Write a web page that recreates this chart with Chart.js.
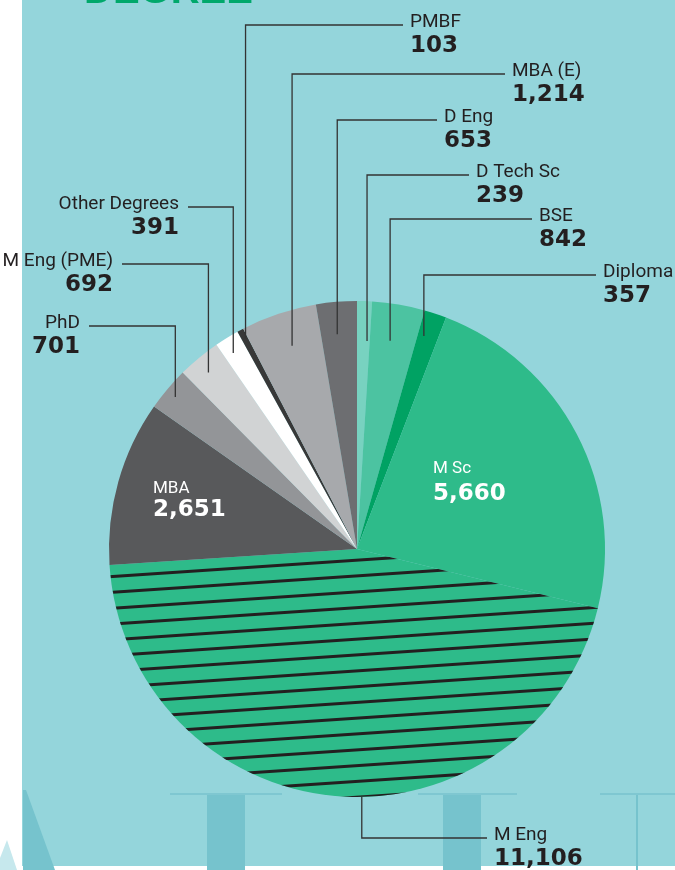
<!DOCTYPE html>
<html>
<head>
<meta charset="utf-8">
<script src="https://cdn.jsdelivr.net/npm/chart.js@4/dist/chart.umd.min.js"></script>
<style>
  html, body { margin: 0; padding: 0; background: #fff; overflow: hidden; }
  canvas { display: block; }
</style>
</head>
<body>
<canvas id="degreeChart" width="675" height="870"></canvas>
<script>
'use strict';

// ===== DATA (clockwise from 12 o'clock) =====
const DEGREES = ['D Tech Sc', 'BSE', 'Diploma', 'M Sc', 'M Eng', 'MBA', 'PhD', 'M Eng (PME)', 'Other Degrees', 'PMBF', 'MBA (E)', 'D Eng'];
const COUNTS = [239, 842, 357, 5660, 11106, 2651, 701, 692, 391, 103, 1214, 653];
const TITLE = 'DEGREE';

const SLICE_COLORS = ['#78d2c0', '#4cc3a1', '#00a263', '#2ebb8a', '#2ebb8a', '#58595b', '#939598', '#d1d3d4', '#ffffff', '#383838', '#a7a9ac', '#6d6e71'];
const STRIPED = 4; // M Eng

// callouts: slice index, side, elbow y, text x, anchor (angle fraction, radius fraction)
const CALLOUTS = [
  { i: 9, side: 'right', y: 25, x: 410, f: 0.6, r: 0.96 },
  { i: 10, side: 'right', y: 74, x: 512, f: 0.54, r: 0.86 },
  { i: 11, side: 'right', y: 120, x: 444, f: 0.45, r: 0.87 },
  { i: 0, side: 'right', y: 175, x: 476, f: 0.79, r: 0.84 },
  { i: 1, side: 'right', y: 219, x: 539, f: 0.45, r: 0.85 },
  { i: 2, side: 'right', y: 275, x: 603, f: 0.31, r: 0.9 },
  { i: 8, side: 'left', y: 207, x: 179, f: 0.4, r: 0.935 },
  { i: 7, side: 'left', y: 264, x: 113, f: 0.45, r: 0.93 },
  { i: 6, side: 'left', y: 326, x: 80, f: 0.47, r: 0.955 },
  { i: 4, side: 'right', y: 838, x: 494, f: 0.462, r: 1.0 },
];
// labels drawn inside the slice (offset from pie centre)
const INNER = [
  { i: 5, dx: -204, dy: -56, gap: 23 },
  { i: 3, dx: 76, dy: -76, gap: 27 },
];

const PANEL = '#94d5db';
const INK = '#231f20';
const LABEL_FONT = '19px Roboto, "Liberation Sans", sans-serif';
const VALUE_FONT = 'bold 23px "DejaVu Sans", sans-serif';

const fmt = (v) => v.toLocaleString('en-US');

// ===== PLUGINS =====
const backdrop = {
  id: 'backdrop',
  beforeDraw(chart) {
    const c = chart.ctx;
    c.save();
    c.fillStyle = '#fff';
    c.fillRect(0, 0, chart.width, chart.height);
    c.fillStyle = PANEL;
    c.fillRect(22, 0, chart.width - 22, 866);

    // faded letters at the bottom
    c.fillStyle = '#c6e8ed';
    c.beginPath();
    c.moveTo(7, 840); c.lineTo(17, 870); c.lineTo(0, 870); c.lineTo(0, 858);
    c.closePath(); c.fill();
    c.fillStyle = '#76c3cd';
    c.beginPath();
    c.moveTo(23, 790); c.lineTo(26, 790); c.lineTo(55, 870); c.lineTo(23, 870);
    c.closePath(); c.fill();
    c.fillRect(207, 794, 38, 76);
    c.fillRect(443, 794, 38, 76);
    c.fillRect(636, 794, 2, 76);
    c.fillStyle = '#7fc7d1';
    c.fillRect(170, 793, 112, 2);
    c.fillRect(418, 793, 99, 2);
    c.fillRect(600, 793, 75, 2);

    // title, cut by the top edge
    c.fillStyle = '#00a86b';
    c.font = 'bold 40px "Liberation Sans", Arial, sans-serif';
    c.textBaseline = 'alphabetic';
    c.fillText(TITLE, 84, 3);
    c.restore();
  }
};

const stripes = {
  id: 'stripes',
  afterDatasetsDraw(chart) {
    const arc = chart.getDatasetMeta(0).data[STRIPED];
    if (!arc) return;
    const { x, y, startAngle, endAngle, outerRadius } = arc.getProps(['x', 'y', 'startAngle', 'endAngle', 'outerRadius'], true);
    const c = chart.ctx;
    c.save();
    c.beginPath();
    c.moveTo(x, y);
    c.arc(x, y, outerRadius, startAngle, endAngle);
    c.closePath();
    c.clip();
    c.strokeStyle = INK;
    c.lineWidth = 3;
    const slope = -0.067;
    for (let k = -2; k < 20; k++) {
      const yc = y + 11.2 + k * 15.8;
      c.beginPath();
      c.moveTo(x - outerRadius, yc - slope * outerRadius);
      c.lineTo(x + outerRadius, yc + slope * outerRadius);
      c.stroke();
    }
    c.restore();
  }
};

const callouts = {
  id: 'callouts',
  afterDraw(chart) {
    const meta = chart.getDatasetMeta(0);
    const c = chart.ctx;
    c.save();
    c.strokeStyle = '#333';
    c.lineWidth = 1.3;
    c.textBaseline = 'alphabetic';

    CALLOUTS.forEach(co => {
      const arc = meta.data[co.i];
      const p = arc.getProps(['x', 'y', 'startAngle', 'endAngle', 'outerRadius'], true);
      const a = p.startAngle + co.f * (p.endAngle - p.startAngle);
      const ax = p.x + Math.cos(a) * p.outerRadius * co.r;
      const ay = p.y + Math.sin(a) * p.outerRadius * co.r;
      const ex = co.side === 'right' ? co.x - 7 : co.x + 9;
      c.beginPath();
      c.moveTo(ax, ay);
      c.lineTo(ax, co.y);
      c.lineTo(ex, co.y);
      c.stroke();

      c.fillStyle = INK;
      c.textAlign = co.side === 'right' ? 'left' : 'right';
      c.font = LABEL_FONT;
      c.fillText(DEGREES[co.i], co.x, co.y + 2);
      c.font = VALUE_FONT;
      c.fillText(fmt(COUNTS[co.i]), co.x, co.y + 27);
    });

    INNER.forEach(lb => {
      const arc = meta.data[lb.i];
      const tx = arc.x + lb.dx;
      const ty = arc.y + lb.dy;
      c.fillStyle = '#fff';
      c.textAlign = 'left';
      c.font = '17px Roboto, "Liberation Sans", sans-serif';
      c.fillText(DEGREES[lb.i], tx, ty);
      c.font = 'bold 23px "DejaVu Sans", sans-serif';
      c.fillText(fmt(COUNTS[lb.i]), tx, ty + lb.gap);
    });
    c.restore();
  }
};

// ===== CHART =====
new Chart(document.getElementById('degreeChart').getContext('2d'), {
  type: 'pie',
  data: {
    labels: DEGREES,
    datasets: [{
      data: COUNTS,
      backgroundColor: SLICE_COLORS,
      borderWidth: 0,
      hoverOffset: 0,
      offset: 0,
    }]
  },
  options: {
    responsive: false,
    animation: false,
    events: [],
    layout: { padding: { left: 109, right: 70, top: 301, bottom: 73 } },
    plugins: {
      legend: { display: false },
      tooltip: { enabled: false },
    },
  },
  plugins: [backdrop, stripes, callouts],
});
</script>
</body>
</html>
